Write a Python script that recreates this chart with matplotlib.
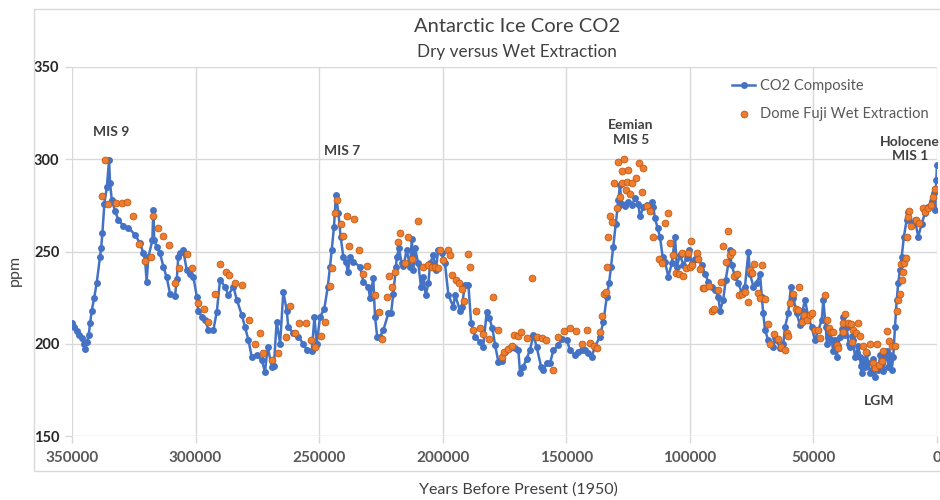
import numpy as np
import matplotlib
matplotlib.use("Agg")
import matplotlib.pyplot as plt
from matplotlib.patches import Rectangle

# ---------------- data (years in thousands before 1950, ppm) ----------------
composite_kyr = [
    350.0, 349.0, 348.0, 347.0, 346.0, 345.3, 344.7, 344.0, 343.2, 342.7, 342.0, 341.0, 340.0,
    338.7, 338.2, 337.7, 336.9, 335.9, 335.0, 334.6, 333.9, 332.6, 331.2, 329.2, 327.2, 324.5,
    322.5, 321.1, 320.4, 319.8, 319.1, 317.5, 317.1, 316.7, 315.7, 314.4, 313.0, 311.7, 310.3,
    308.3, 307.6, 307.0, 306.3, 305.0, 303.6, 302.2, 300.9, 299.5, 298.9, 297.5, 296.2, 294.8,
    292.8, 291.4, 290.1, 288.1, 286.7, 284.7, 283.3, 281.3, 280.0, 278.6, 277.3, 275.2, 273.2,
    271.9, 270.8, 269.2, 268.3, 267.2, 265.8, 264.5, 263.1, 262.5, 260.4, 258.4, 256.4, 255.0,
    253.0, 251.9, 251.0, 249.6, 247.9, 246.5, 245.6, 244.9, 244.0, 243.2, 242.2, 241.3, 240.2,
    239.1, 238.4, 237.5, 236.2, 233.5, 232.1, 230.1, 229.4, 228.1, 227.4, 226.5, 225.4, 224.0,
    222.0, 220.9, 220.0, 218.9, 218.6, 217.7, 216.6, 215.9, 214.6, 213.2, 212.5, 211.9, 211.2,
    209.9, 208.8, 207.8, 206.9, 205.8, 205.1, 203.8, 202.8, 201.8, 200.4, 199.1, 197.7, 195.7,
    195.0, 193.0, 192.3, 191.0, 189.6, 188.5, 186.9, 184.9, 183.6, 182.2, 181.1, 179.9, 178.8,
    177.5, 176.1, 174.8, 172.8, 172.1, 170.7, 169.4, 168.7, 167.4, 166.0, 164.7, 163.3, 162.0,
    160.2, 159.3, 157.9, 156.6, 155.2, 153.2, 151.8, 149.8, 148.5, 146.5, 145.1, 143.8, 142.4,
    141.1, 139.7, 138.4, 136.4, 135.0, 133.6, 132.7, 131.9, 131.0, 130.0, 129.2, 128.9, 128.3,
    127.6, 126.2, 124.9, 123.5, 122.2, 120.9, 120.2, 118.8, 117.5, 116.1, 115.4, 114.8, 114.1,
    113.0, 112.1, 111.0, 110.1, 108.7, 107.3, 106.0, 105.3, 104.0, 102.6, 101.3, 100.3, 99.2,
    97.9, 96.6, 95.2, 93.9, 92.5, 91.2, 89.8, 88.5, 87.8, 86.5, 85.5, 84.4, 83.8, 83.1, 81.7,
    80.4, 79.0, 77.7, 76.3, 75.7, 74.3, 73.0, 71.6, 70.9, 70.3, 69.6, 68.3, 67.2, 66.2, 65.5,
    64.9, 63.5, 62.2, 61.5, 60.2, 59.1, 58.1, 56.8, 55.4, 54.4, 53.4, 52.1, 50.7, 49.4, 48.0,
    46.6, 46.0, 45.0, 44.5, 44.0, 43.3, 42.6, 42.0, 41.3, 40.6, 40.0, 39.2, 38.5, 37.9, 37.2,
    36.5, 35.8, 35.2, 34.5, 33.9, 33.2, 32.5, 31.8, 31.2, 30.8, 30.5, 29.8, 29.1, 28.5, 27.8,
    27.1, 26.4, 25.8, 25.1, 24.4, 23.7, 23.0, 22.4, 21.7, 21.0, 20.3, 19.7, 19.0, 18.3, 17.7,
    17.0, 16.3, 15.7, 15.0, 14.3, 13.4, 12.3, 11.6, 10.2, 8.9, 7.6, 6.2, 4.9, 3.5, 2.1, 1.2,
    0.7, 0.3, 0.0,
]
composite_ppm = [
    211, 209, 207, 205, 203, 200, 197, 201, 205, 211, 218, 225, 233,
    247, 252, 260, 276, 285, 299.5, 287, 278, 272, 267, 264, 263, 259,
    254.6, 249, 245, 233.6, 247, 256, 272.5, 256, 252.6, 249, 241.8, 236, 227,
    226, 235, 247, 249, 250.8, 240, 238, 236.4, 225.5, 218, 214.7, 213, 207.5,
    207.5, 217.4, 234.6, 231, 226.4, 231, 223.7, 215.6, 209, 202, 193, 194, 191,
    184.8, 198.4, 187.6, 188, 212, 200, 228, 218, 209, 205.6, 203.8, 200, 196.6,
    196, 214.7, 200, 214.7, 219, 231, 241.8, 250.8, 263.4, 280.6, 270.7, 258, 247,
    244.5, 239, 247, 244.5, 241.8, 233.6, 231, 224.6, 235.5, 214.7, 203.8, 203.8, 207.5,
    216.5, 216.5, 227, 241.8, 247, 251.7, 243.6, 242, 250.8, 241.8, 257, 240, 251.7,
    243.6, 231, 236.4, 226.4, 232.7, 243.6, 248, 240, 250.8, 249, 243.6, 226.4, 220,
    226.4, 218, 220, 231.8, 231.8, 211, 203.8, 201, 198.4, 217.4, 213.8, 208.4, 199.3,
    190.3, 190.5, 195.7, 197.5, 199, 197.5, 196.6, 184, 187.6, 192, 196.6, 204.7, 198.4,
    187.6, 185.8, 189.4, 189.4, 196.6, 199.3, 202.4, 202, 196.6, 194, 195.7, 196.6, 196.6,
    195, 193, 198.4, 203.8, 212, 225.5, 232.8, 241.8, 252.6, 265, 274, 278, 286,
    276, 274.5, 277, 275, 278.8, 276, 269, 274, 275, 273, 277, 274, 268,
    262.5, 258, 247, 244.5, 236.4, 243.6, 258, 241.8, 248, 242.7, 246.3, 250.8, 243.6,
    246, 246, 242.7, 238, 233.6, 231, 229, 225.5, 218, 223.7, 234.6, 243.6, 250.8, 242.7, 236.4,
    232.7, 228, 231, 250, 238, 231, 232.7, 238, 225.5, 216.5, 207.5, 202, 200, 198.4, 203,
    202, 197.5, 200, 209, 216.5, 231, 225, 216.5, 210, 218, 223.7, 214.7, 209, 202, 207.5,
    213, 223.7, 209, 200, 203.8, 205.6, 202, 196, 202, 193, 199, 203.8, 208, 214.7, 205,
    209, 200, 198.4, 204, 202, 193, 195, 199, 193, 188, 184, 192, 187.6, 195, 189.4,
    184, 186, 192, 182, 188, 186, 194, 189.4, 185, 193, 196, 187.6, 194, 186, 193,
    209, 223.7, 232.7, 240, 247, 258, 267, 271.6, 265, 267, 258, 265, 270.7, 274, 277.5, 281.5,
    272.5, 288.7, 297,
]

fuji_kyr = [
    336.6, 337.7, 335.3, 332.2, 329.9, 327.8, 325.2, 322.9, 320.4, 318.0, 317.1, 315.1, 313.3,
    310.6, 308.3, 306.7, 303.6, 301.5, 299.1, 296.4, 295.1, 292.1, 290.1, 287.8, 286.3, 284.0,
    281.3, 278.4, 275.9, 273.9, 272.6, 269.2, 266.5, 263.5, 261.8, 259.8, 258.1, 255.4, 253.3,
    251.7, 249.2, 247.6, 245.6, 244.9, 243.6, 242.6, 241.1, 240.2, 238.8, 235.8, 237.9, 233.9,
    232.1, 230.6, 227.4, 225.6, 224.6, 222.6, 221.6, 220.4, 219.3, 218.2, 217.3, 214.2, 209.9,
    212.3, 215.2, 207.8, 205.8, 204.3, 203.1, 202.0, 201.1, 199.7, 198.0, 197.0, 189.9, 188.9,
    196.1, 194.7, 193.4, 192.3, 191.3, 186.6, 187.6, 184.9, 183.6, 181.3, 179.8, 177.5, 175.9,
    175.1, 173.5, 172.1, 171.0, 169.4, 168.3, 166.0, 163.7, 161.7, 159.8, 158.2, 155.2, 153.2,
    150.8, 148.5, 146.1, 143.8, 141.7, 140.4, 138.7, 137.6, 136.4, 135.4, 134.6, 134.1, 133.6,
    133.0, 132.3, 131.6, 130.6, 129.6, 129.0, 126.5, 127.6, 125.1, 120.6, 118.8, 127.3, 125.4,
    123.5, 121.7, 126.0, 124.2, 128.3, 119.5, 117.5, 116.1, 109.0, 110.1, 114.8, 108.0, 112.5,
    111.4, 106.7, 105.7, 104.4, 102.6, 103.3, 100.9, 99.5, 101.6, 99.9, 99.0, 97.2, 96.6,
    95.9, 94.8, 94.2, 92.2, 91.2, 90.1, 88.7, 87.4, 86.7, 85.5, 84.7, 83.8, 82.8, 82.0,
    81.0, 80.1, 78.8, 77.7, 76.6, 75.7, 74.7, 73.9, 70.7, 72.5, 71.6, 69.6, 68.5, 67.6,
    65.8, 64.5, 63.1, 61.5, 60.8, 60.2, 59.5, 58.1, 55.8, 57.2, 56.4, 54.5, 53.7, 52.7,
    51.4, 50.5, 49.4, 48.0, 47.3, 45.3, 44.6, 43.7, 42.9, 42.0, 40.6, 39.9, 38.2, 37.2,
    35.9, 37.9, 34.9, 33.9, 32.8, 31.8, 31.2, 34.5, 29.8, 28.7, 27.1, 26.0, 25.1, 24.4,
    23.3, 22.4, 21.7, 20.1, 19.3, 18.3, 17.0, 16.3, 15.7, 15.0, 14.3, 13.9, 14.6, 13.4,
    12.5, 12.3, 11.6, 11.2, 10.5, 8.5, 7.2, 5.8, 4.9, 3.8, 2.4, 1.5, 0.8,
]
fuji_ppm = [
    299.6, 280, 276, 276.5, 276.5, 277, 269, 254, 245, 247, 269, 262.6, 258.4,
    253.5, 233, 241, 248.6, 241, 222, 218.6, 212, 227, 243.2, 239, 237.3, 232.7,
    231.8, 213, 200, 206, 195, 191, 195, 203.8, 220.5, 205.6, 211, 211.5, 202,
    198.4, 204.2, 212, 231.3, 241, 270.7, 278, 265, 258.4, 269, 267.8, 253, 250.8,
    237.8, 242, 226.4, 217.4, 202.4, 225.5, 236.7, 230.6, 239, 255.3, 260.2, 257.7, 266.7,
    245.8, 244, 241.4, 242.7, 241.8, 241.8, 241, 250.8, 245.4, 250.8, 248, 248.6, 241.4,
    237.3, 234.6, 232.7, 229.5, 223.4, 218, 207.5, 208.4, 205.3, 202.4, 225.2, 207.5, 192.7,
    195.5, 197, 198.6, 204.7, 204.2, 206.5, 203, 235.5, 203.8, 203, 202, 185.8, 203.5,
    207, 208.4, 207, 200, 207.5, 200.6, 198.8, 197.5, 206.2, 215, 227, 228.3, 241.8,
    258, 269, 266.2, 287.3, 273.4, 298.7, 300.1, 293.8, 294.2, 298.1, 295, 287.3, 287.8,
    287, 289.6, 283.3, 281, 279.4, 282, 274.7, 272, 270.7, 265.6, 257.7, 254.8, 245.8,
    243.6, 248, 238.5, 238, 236.7, 249, 249.4, 255.8, 241, 241.8, 242.7, 249, 245.8,
    240.4, 230, 230, 231.3, 218, 219, 229, 233.6, 253, 244.5, 261.3, 248, 249.5, 236.7,
    238, 226.4, 227, 228, 222.8, 240, 238.5, 243.2, 242.7, 227.7, 225, 224, 210.7, 200,
    205.3, 202.4, 198.4, 196.6, 206, 204, 222.3, 227, 230.6, 219, 218.5, 212, 215.5, 213,
    215.5, 216.8, 207.5, 207.5, 203, 226.4, 213, 208.4, 206.5, 206.5, 199.3, 197.5, 211.5, 216,
    211.5, 206.5, 210.7, 207.5, 205.6, 211, 204, 201, 198.8, 195.7, 199.9, 189.7, 186.7, 200,
    188.4, 190.7, 196.3, 207, 201.6, 198.8, 198.8, 218, 223.7, 227, 234.6, 239, 243.2, 243.6,
    246.3, 258, 268.5, 272, 263.8, 267, 265.6, 273.4, 271.6, 273.4, 275.2, 279.7, 283.7,
]

x_ticks = [350000, 300000, 250000, 200000, 150000, 100000, 50000, 0]
y_ticks = [150, 200, 250, 300, 350]

annotations = [
    ("MIS 9", 334.2, 314.8),
    ("MIS 7", 240.7, 304.5),
    ("Eemian\nMIS 5", 123.8, 314.5),
    ("Holocene\nMIS 1", 11.0, 305.5),
    ("LGM", 23.3, 169.0),
]

# ---------------- drawing ----------------
plt.rcParams['font.family'] = ['Lato', 'DejaVu Sans']

BLUE = '#4472C4'
ORANGE = '#ED7D31'

fig = plt.figure(figsize=(9.4, 5.0), dpi=100)
fig.patches.append(Rectangle((34 / 940, 1 - 471 / 500), 1.0, (471 - 9) / 500,
                             transform=fig.transFigure, fill=False,
                             edgecolor='#d9d9d9', linewidth=1.0))
ax = fig.add_axes([72 / 940, 1 - 436 / 500, (937 - 72) / 940, (436 - 67) / 500])

cx = np.array(composite_kyr) * 1000
fx = np.array(fuji_kyr) * 1000

ax.plot(cx, composite_ppm, color=BLUE, lw=1.8, marker='o', ms=5.0,
        markeredgewidth=0, label='CO2 Composite', zorder=3)
ax.scatter(fx, fuji_ppm, s=24, color=ORANGE, edgecolors='#c55a11',
           linewidths=0.6, label='Dome Fuji Wet Extraction', zorder=4)

ax.set_xlim(350000, 0)
ax.set_ylim(150, 350)
ax.set_xticks(x_ticks)
ax.set_yticks(y_ticks)
ax.set_xticklabels([str(v) for v in x_ticks])
ax.grid(True, color='#d9d9d9', lw=1.0, zorder=0)
for s in ax.spines.values():
    s.set_visible(False)
ax.tick_params(axis='both', length=5, color='#d9d9d9', width=1.0)
ax.tick_params(axis='x', pad=6)
ax.tick_params(axis='y', pad=4)
for lab in ax.get_xticklabels():
    lab.set_fontweight('bold')
    lab.set_fontsize(11)
    lab.set_color('#595959')
for lab in ax.get_yticklabels():
    lab.set_fontweight('bold')
    lab.set_fontsize(10.5)
    lab.set_color('#262626')

ax.set_ylabel('ppm', fontsize=11.5, color='#404040')
ax.yaxis.set_label_coords(-0.058, 0.45)
fig.text(518 / 940, 1 - 490 / 500, 'Years Before Present (1950)', ha='center',
         va='center', fontsize=11.5, color='#404040')

fig.text(517 / 940, 1 - 26 / 500, 'Antarctic Ice Core CO2', ha='center', va='center',
         fontsize=14.5, color='#404040')
fig.text(517 / 940, 1 - 52 / 500, 'Dry versus Wet Extraction', ha='center', va='center',
         fontsize=12.3, color='#404040')

for txt, xk, yv in annotations:
    ax.text(xk * 1000, yv, txt, ha='center', va='center', fontsize=10,
            fontweight='bold', color='#404040', linespacing=1.25, clip_on=False,
            zorder=6)

leg = ax.legend(loc='upper right', bbox_to_anchor=(1.0, 0.99), frameon=False,
                fontsize=10.5, handlelength=1.6, handletextpad=0.3,
                labelspacing=0.9, borderaxespad=0.2, markerscale=1.0)
for t in leg.get_texts():
    t.set_color('#595959')

fig.savefig('out.png', dpi=100)
